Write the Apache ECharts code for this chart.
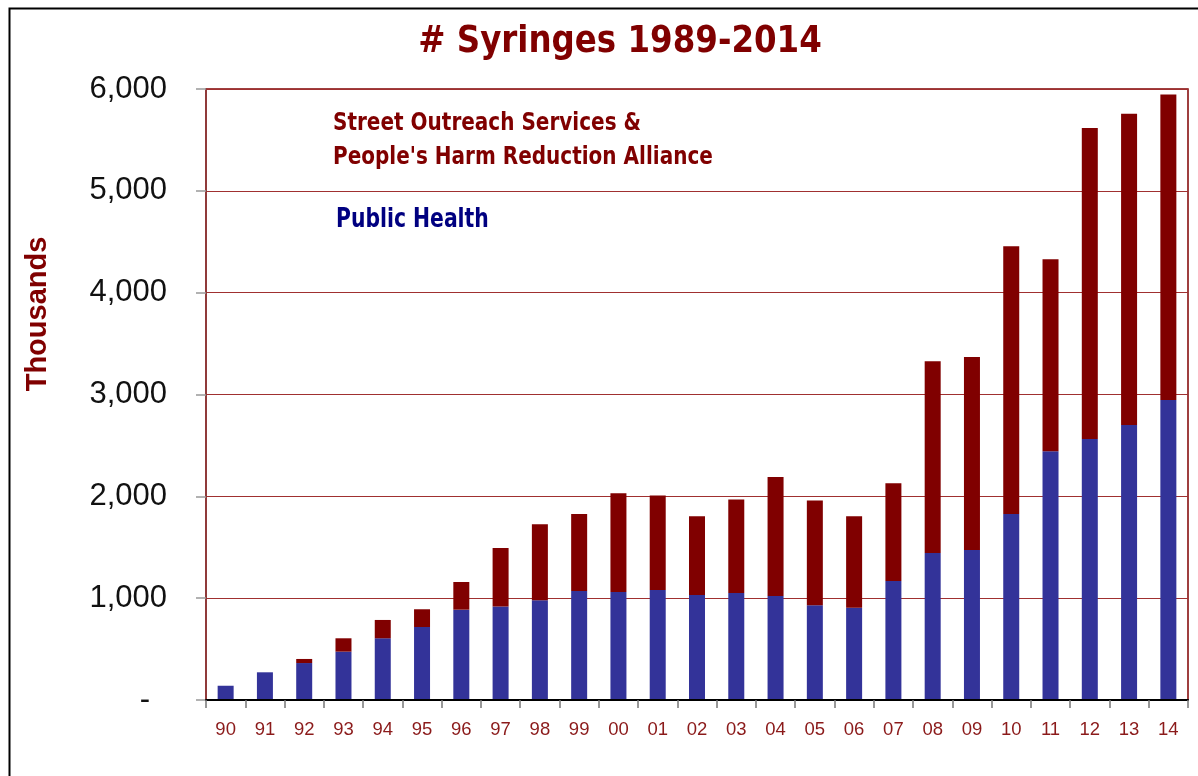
<!DOCTYPE html>
<html>
<head>
<meta charset="utf-8">
<title># Syringes 1989-2014</title>
<script src="https://cdn.jsdelivr.net/npm/echarts@6/dist/echarts.min.js"></script>
<style>
  html, body { margin: 0; padding: 0; background: #fff; }
  #chart { width: 1198px; height: 776px; }
</style>
</head>
<body>
<div id="chart"></div>
<script>
// Year labels (two-digit), 1990 through 2014
const years = ['90','91','92','93','94','95','96','97','98','99','00','01','02','03','04','05','06','07','08','09','10','11','12','13','14'];

// Syringes distributed by Public Health (thousands)
const publicHealth = [140, 272, 363, 475, 606, 717, 887, 917, 979, 1071, 1061, 1081, 1031, 1051, 1022, 930, 907, 1169, 1444, 1473, 1827, 2443, 2564, 2701, 2947];

// Syringes distributed by Street Outreach Services & People's Harm Reduction Alliance (thousands)
const streetOutreach = [0, 0, 40, 131, 180, 174, 272, 576, 747, 756, 969, 926, 773, 917, 1169, 1028, 897, 960, 1883, 1896, 2628, 1886, 3052, 3057, 2999];

// Value axis ticks
const yTicks = [0, 1000, 2000, 3000, 4000, 5000, 6000];

const titleText = '# Syringes 1989-2014';
const axisName = 'Thousands';
const outreachName = ['Street Outreach Services &', "People's Harm Reduction Alliance"];
const healthName = 'Public Health';

const DARK_RED = '#800000';
const BLUE = '#333399';
const NAVY = '#000080';
const NARROW = "'Liberation Sans Narrow', 'Arial Narrow', 'DejaVu Sans Condensed', sans-serif";
const SANS = "'Liberation Sans', Arial, sans-serif";

const chart = echarts.init(document.getElementById('chart'), null, { renderer: 'canvas' });

chart.setOption({
  backgroundColor: '#fff',
  animation: false,
  grid: {
    left: 206, right: 10, top: 89, bottom: 76,
    show: true,
    borderColor: DARK_RED,
    borderWidth: 1.5,
    backgroundColor: 'transparent'
  },
  xAxis: {
    type: 'category',
    data: years,
    boundaryGap: true,
    axisLine: { show: true, lineStyle: { color: '#000', width: 2 } },
    axisTick: { show: true, length: 8, lineStyle: { color: '#777', width: 1.5 } },
    axisLabel: { color: '#8b1a1a', fontFamily: SANS, fontSize: 18.5, margin: 20 },
    z: 5
  },
  yAxis: {
    type: 'value',
    min: yTicks[0],
    max: yTicks[yTicks.length - 1],
    interval: yTicks[1] - yTicks[0],
    axisLine: { show: true, lineStyle: { color: '#8b3a3a', width: 1.5 } },
    axisTick: { show: true, length: 10, lineStyle: { color: '#999', width: 1.5 } },
    axisLabel: {
      fontFamily: SANS, fontSize: 31, color: '#111', margin: 39,
      formatter: v => v === 0 ? '{dash|-}' : v.toLocaleString('en-US'),
      rich: { dash: { fontFamily: SANS, fontSize: 31, color: '#111', padding: [0, 17, 0, 0] } }
    },
    splitLine: { show: true, lineStyle: { color: '#a03030', width: 1.2 } }
  },
  series: [
    {
      name: healthName,
      type: 'bar',
      stack: 'total',
      data: publicHealth,
      barWidth: 16,
      itemStyle: { color: BLUE }
    },
    {
      name: outreachName.join(' '),
      type: 'bar',
      stack: 'total',
      data: streetOutreach,
      barWidth: 16,
      itemStyle: { color: DARK_RED }
    }
  ],
  graphic: [
    // outer frame
    {
      type: 'rect', left: 7, top: 6, silent: true, z: -1,
      shape: { width: 1190, height: 800 },
      style: { fill: 'none', stroke: '#000', lineWidth: 2 }
    },
    // chart title
    {
      type: 'text', x: 620, y: 42, scaleX: 0.95,
      style: {
        text: titleText, fill: DARK_RED, align: 'center', verticalAlign: 'middle',
        font: "bold 38px " + NARROW
      }
    },
    // value axis name
    {
      type: 'text', x: 38, y: 314, rotation: Math.PI / 2,
      style: {
        text: axisName, fill: DARK_RED, align: 'center', verticalAlign: 'middle',
        font: "bold 29px " + SANS
      }
    },
    // series captions
    {
      type: 'text', x: 333, y: 106, scaleX: 0.89,
      style: {
        text: outreachName.join('\n'), fill: DARK_RED,
        font: "bold 25px " + NARROW, lineHeight: 34
      }
    },
    {
      type: 'text', x: 336, y: 207, scaleX: 0.87,
      style: { text: healthName, fill: NAVY, font: "bold 26px " + NARROW }
    }
  ]
});
</script>
</body>
</html>
